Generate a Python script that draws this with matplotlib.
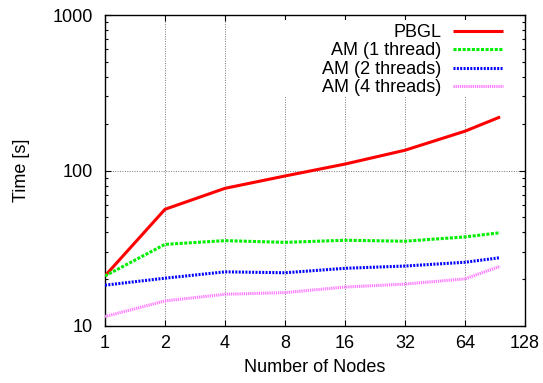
import matplotlib
matplotlib.use("Agg")
import matplotlib.pyplot as plt
from matplotlib.patches import Rectangle
from matplotlib.ticker import NullFormatter, LogLocator, NullLocator

plt.rcParams['font.family'] = ['Liberation Sans', 'DejaVu Sans']

nodes = [1, 2, 4, 8, 16, 32, 64, 96]
pbgl = [21.0, 56.3, 76.8, 92.2, 110, 135, 179, 221]
am1 = [21.0, 33.5, 35.4, 34.5, 35.6, 35.1, 37.4, 39.8]
am2 = [18.3, 20.3, 22.3, 22.0, 23.5, 24.3, 25.7, 27.5]
am4 = [11.5, 14.5, 16.0, 16.4, 17.8, 18.6, 20.1, 24.2]
xticks = [1, 2, 4, 8, 16, 32, 64, 128]
yticks = [10, 100, 1000]
labels = ["PBGL", "AM (1 thread)", "AM (2 threads)", "AM (4 threads)"]

FS = 13

fig = plt.figure(figsize=(5.43, 3.83), dpi=100)
ax = fig.add_axes([105/543, 1-326/383, 420/543, 311/383])

lw = 2.2
ax.plot(nodes, pbgl, color='#ff0000', lw=lw, label=labels[0], solid_capstyle='butt', zorder=3)
ax.plot(nodes, am1, color='#00ee00', lw=lw, dashes=(1.0, 0.5), label=labels[1], zorder=3)
ax.plot(nodes, am2, color='#0000ff', lw=lw, dashes=(0.65, 0.45), label=labels[2], zorder=3)
ax.plot(nodes, am4, color='#ff77ff', lw=lw, dashes=(0.4, 0.3), label=labels[3], zorder=3)

ax.set_xscale('log', base=2)
ax.set_yscale('log')
ax.set_xlim(1, 128)
ax.set_ylim(10, 1000)
ax.set_xticks(xticks)
ax.set_xticklabels([str(v) for v in xticks])
ax.xaxis.set_minor_locator(NullLocator())
ax.set_yticks(yticks)
ax.set_yticklabels([str(v) for v in yticks])
ax.yaxis.set_minor_locator(LogLocator(base=10, subs=range(2, 10)))
ax.yaxis.set_minor_formatter(NullFormatter())

ax.tick_params(which='both', direction='in', top=True, right=True, labelsize=FS)
ax.tick_params(axis='y', pad=8.6)
ax.tick_params(axis='x', pad=6.5)
ax.tick_params(which='major', length=4.5, width=0.8)
ax.tick_params(which='minor', length=2.5, width=0.8)
ax.set_axisbelow(True)
ax.grid(True, which='major', linestyle=(0, (1, 1.5)), color='#777777', lw=0.7)
for s in ax.spines.values():
    s.set_linewidth(1.0)

# opaque key area (gnuplot-style)
ax.add_patch(Rectangle((0.33, (326-96)/311), 1-0.33-6/420, 1-(326-96)/311-5/311,
                       transform=ax.transAxes, facecolor='white', edgecolor='none', zorder=0.8))

leg = ax.legend(loc='upper right', bbox_to_anchor=(1-22/420, 1-9/311), frameon=False,
                markerfirst=False, fontsize=FS, handlelength=2.75, handletextpad=0.67,
                labelspacing=0.08, borderpad=0.0, borderaxespad=0.0)

ax.set_xlabel("Number of Nodes", fontsize=FS, labelpad=5)
ax.set_ylabel("Time [s]", fontsize=FS, labelpad=16)

fig.savefig("out.png", dpi=100)
